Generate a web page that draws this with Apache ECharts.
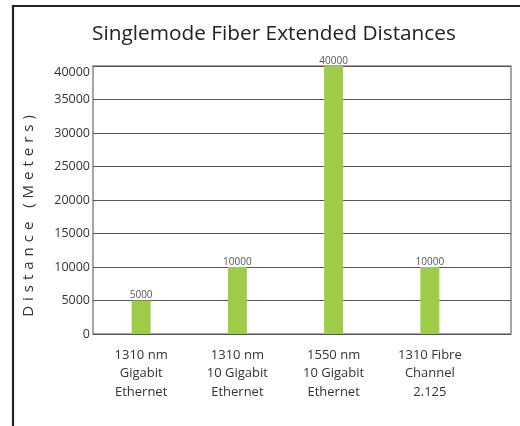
<!DOCTYPE html>
<html>
<head>
<meta charset="utf-8">
<style>html,body{margin:0;padding:0;background:#fff}#chart{width:520px;height:426px}</style>
<script src="https://cdn.jsdelivr.net/npm/echarts@6/dist/echarts.min.js"></script>
</head>
<body>
<div id="chart"></div>
<script>
const categories = ['1310 nm\nGigabit\nEthernet', '1310 nm\n10 Gigabit\nEthernet', '1550 nm\n10 Gigabit\nEthernet', '1310 Fibre\nChannel\n2.125'];
const distances = [5000, 10000, 40000, 10000];
const yTicks = [0, 5000, 10000, 15000, 20000, 25000, 30000, 35000, 40000];
const titleText = 'Singlemode Fiber Extended Distances';
const yName = 'Distance (Meters)';

const font = '"Open Sans", "Noto Sans", sans-serif';
const spaced = yName.split('').join('\u2009\u2009');
const chart = echarts.init(document.getElementById('chart'));
chart.setOption({
  animation: false,
  backgroundColor: '#fff',
  title: {
    text: titleText, left: 269, top: 19, textAlign: 'center',
    textStyle: { fontFamily: font, fontSize: 20.8, fontWeight: 'normal', color: '#222' }
  },
  graphic: [
    { type: 'line', shape: { x1: 13, y1: 5, x2: 13, y2: 426 }, style: { stroke: '#222', lineWidth: 2.2 } },
    { type: 'line', shape: { x1: 12, y1: 6, x2: 520, y2: 6 }, style: { stroke: '#222', lineWidth: 2.2 } }
  ],
  grid: [
    { left: 93, top: 66, right: 9, bottom: 92, show: true, borderColor: '#888', borderWidth: 1.5, backgroundColor: 'transparent' },
    { left: 93, top: 66, width: 385, bottom: 92 }
  ],
  xAxis: [
    { gridIndex: 0, type: 'value', show: false, min: 0, max: 1 },
    {
      gridIndex: 1, type: 'category', data: categories,
      axisLine: { show: false }, axisTick: { show: false },
      axisLabel: { fontFamily: font, fontSize: 13, color: '#333', lineHeight: 18.5, margin: 12, interval: 0 }
    }
  ],
  yAxis: [
    {
      gridIndex: 0, type: 'value', min: yTicks[0], max: yTicks[yTicks.length - 1], interval: 5000,
      name: spaced, nameLocation: 'middle', nameGap: 57,
      nameTextStyle: { fontFamily: font, fontSize: 15, color: '#333', padding: [0, 32, 0, 0] },
      axisLine: { show: false }, axisTick: { show: false },
      splitLine: { show: true, lineStyle: { color: '#555', width: 1 } },
      axisLabel: { fontFamily: font, fontSize: 12.5, color: '#333', margin: 3, verticalAlignMaxLabel: 'top', formatter: v => String(v) }
    },
    { gridIndex: 1, type: 'value', min: yTicks[0], max: yTicks[yTicks.length - 1], show: false }
  ],
  series: [{
    type: 'bar', xAxisIndex: 1, yAxisIndex: 1, data: distances, barWidth: 19,
    itemStyle: { color: '#9ecb48' },
    label: { show: true, position: 'top', distance: 0, fontFamily: font, fontSize: 10, color: '#555' }
  }]
});
</script>
</body>
</html>
